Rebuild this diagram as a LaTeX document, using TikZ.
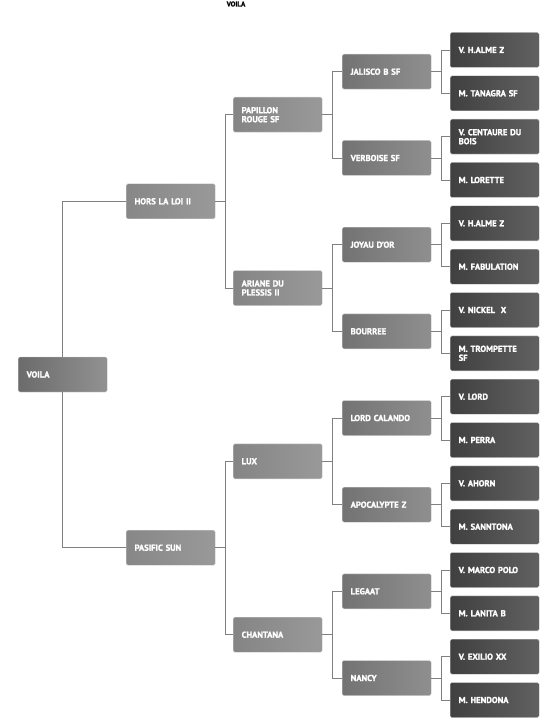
\documentclass[tikz,border=0pt]{standalone}
\usepackage{fontspec}
\setmainfont{PT Sans}[BoldFont={PT Sans Bold}, BoldFeatures={FakeBold=1.6}]
\begin{document}
\begin{tikzpicture}[x=1pt,y=-1pt,
  box/.style={anchor=west, rectangle, rounded corners=1.5pt, draw=black!18, line width=0.4pt,
    minimum width=89pt, minimum height=35pt, text width=72pt, inner xsep=8.5pt, inner ysep=0pt,
    align=left, text=white, font=\bfseries\fontsize{8.6}{9}\selectfont},
  rootbox/.style={box, left color=black!58, right color=black!43},
  lone/.style={box, left color=black!47, right color=black!40},
  ltwo/.style={box, left color=black!48, right color=black!40},
  lthree/.style={box, left color=black!55, right color=black!44},
  lfour/.style={box, left color=black!75, right color=black!62},
  link/.style={draw=black!50, line width=0.8pt},
  title/.style={font=\bfseries\fontsize{7}{7}\selectfont, text=black}
]
\useasboundingbox (0,0) rectangle (554,727);
\node[title] (t) at (236,4) {VOILA};

% root
\node[rootbox] (r) at (18,374.5) {VOILA};
% level 1
\node[lone] (a) at (126,201.3) {HORS LA LOI II};
\node[lone] (b) at (126,547.7) {PASIFIC SUN};
% level 2
\node[ltwo] (a1) at (233,114.7) {PAPILLON\\ROUGE SF};
\node[ltwo] (a2) at (233,288) {ARIANE DU\\PLESSIS II};
\node[ltwo] (b1) at (233,461.3) {LUX};
\node[ltwo] (b2) at (233,634.7) {CHANTANA};
% level 3
\node[lthree] (c1) at (342,71.7) {JALISCO B SF};
\node[lthree] (c2) at (342,158) {VERBOISE SF};
\node[lthree] (c3) at (342,244.7) {JOYAU D'OR};
\node[lthree] (c4) at (342,331.3) {BOURREE};
\node[lthree] (c5) at (342,418) {LORD CALANDO};
\node[lthree] (c6) at (342,504.7) {APOCALYPTE Z};
\node[lthree] (c7) at (342,591.3) {LEGAAT};
\node[lthree] (c8) at (342,678) {NANCY};
% level 4
\node[lfour] (d1) at (450,50) {V. H.ALME Z};
\node[lfour] (d2) at (450,93.3) {M. TANAGRA SF};
\node[lfour] (d3) at (450,136.7) {V. CENTAURE DU\\BOIS};
\node[lfour] (d4) at (450,180) {M. LORETTE};
\node[lfour] (d5) at (450,223.3) {V. H.ALME Z};
\node[lfour] (d6) at (450,266.7) {M. FABULATION};
\node[lfour] (d7) at (450,310) {V. NICKEL\ \ X};
\node[lfour] (d8) at (450,353.3) {M. TROMPETTE\\SF};
\node[lfour] (d9) at (450,396.7) {V. LORD};
\node[lfour] (d10) at (450,440) {M. PERRA};
\node[lfour] (d11) at (450,483.3) {V. AHORN};
\node[lfour] (d12) at (450,526.7) {M. SANNTONA};
\node[lfour] (d13) at (450,570) {V. MARCO POLO};
\node[lfour] (d14) at (450,613.3) {M. LANITA B};
\node[lfour] (d15) at (450,656.7) {V. EXILIO XX};
\node[lfour] (d16) at (450,700) {M. HENDONA};

% connectors
\path[link] (r.north) |- (a.west);
\path[link] (r.south) |- (b.west);
\foreach \p/\c in {a/a1,a/a2,b/b1,b/b2,a1/c1,a1/c2,a2/c3,a2/c4,b1/c5,b1/c6,b2/c7,b2/c8,
  c1/d1,c1/d2,c2/d3,c2/d4,c3/d5,c3/d6,c4/d7,c4/d8,c5/d9,c5/d10,c6/d11,c6/d12,c7/d13,c7/d14,c8/d15,c8/d16}
  {\path[link] (\p.east) -- ([xshift=9.5pt]\p.east) |- (\c.west);}
\end{tikzpicture}
\end{document}
